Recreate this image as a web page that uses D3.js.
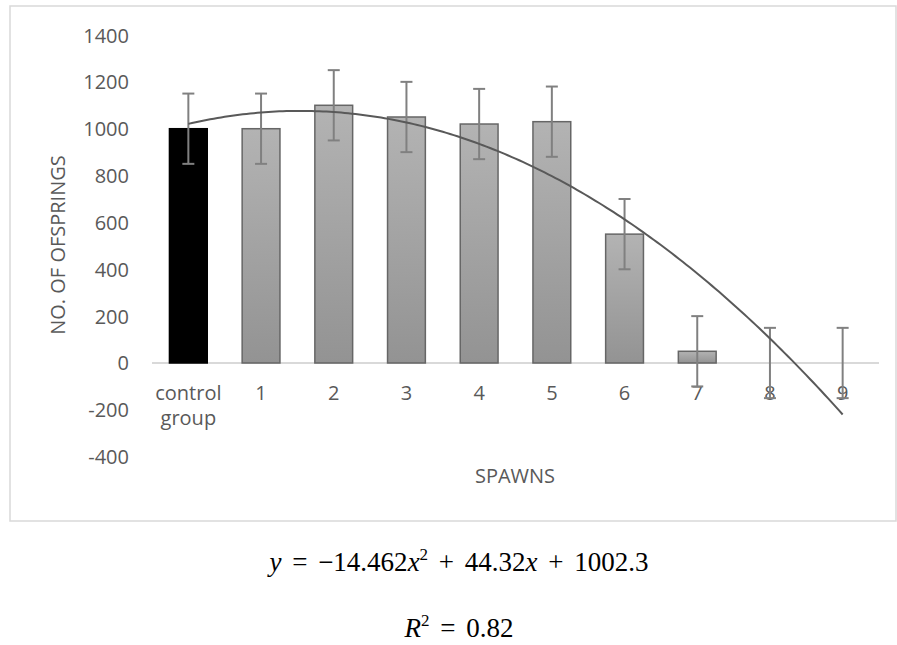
<!DOCTYPE html>
<html>
<head>
<meta charset="utf-8">
<script src="https://cdn.jsdelivr.net/npm/d3@7"></script>
<style>
  body { margin: 0; background: #fff; }
  svg { display: block; }
  .tick-lbl { font-family: "Open Sans", sans-serif; font-size: 20px; fill: #595959; }
  .eq { font-family: "Liberation Serif", "DejaVu Serif", serif; font-size: 27px; fill: #000; word-spacing: 4px; }
</style>
</head>
<body>
<svg width="897" height="645"></svg>
<script>
// chart data
var categories = ["control group", "1", "2", "3", "4", "5", "6", "7", "8", "9"];
var offspring = [1000, 1000, 1100, 1050, 1020, 1030, 550, 50, 0, 0];
var errors = [150, 150, 150, 150, 150, 150, 150, 150, 150, 150];
var yTicks = [-400, -200, 0, 200, 400, 600, 800, 1000, 1200, 1400];
// poly trendline (order 2) on x = 1..10, as drawn by the chart
var trendCoef = [-23.30, 118.48, 925.4];

var svg = d3.select("svg");

var x0 = 152, x1 = 879;
var xScale = d3.scaleBand().domain(categories).range([x0, x1])
    .paddingInner(0.48).paddingOuter(0.24);
var yScale = d3.scaleLinear().domain([-400, 1400]).range([456.7, 35]);

// outer chart frame
svg.append("rect").attr("x", 10).attr("y", 6).attr("width", 886).attr("height", 515)
    .attr("fill", "none").attr("stroke", "#d9d9d9").attr("stroke-width", 1.5);

var defs = svg.append("defs");
var grad = defs.append("linearGradient").attr("id", "barGrad")
    .attr("x1", 0).attr("y1", 0).attr("x2", 0).attr("y2", 1);
grad.append("stop").attr("offset", "0%").attr("stop-color", "#b3b3b3");
grad.append("stop").attr("offset", "100%").attr("stop-color", "#939393");

// y axis labels
var yAxis = svg.append("g").attr("transform", "translate(129,0)")
    .call(d3.axisLeft(yScale).tickValues(yTicks).tickSize(0).tickPadding(0)
        .tickFormat(function(d) { return String(d); }));
yAxis.select(".domain").remove();
yAxis.selectAll("text").attr("class", "tick-lbl").attr("font-size", null)
    .attr("font-family", null).attr("fill", null).attr("dy", "0.35em");

// zero line
svg.append("line").attr("x1", x0).attr("x2", x1)
    .attr("y1", yScale(0)).attr("y2", yScale(0))
    .attr("stroke", "#d9d9d9").attr("stroke-width", 2);

// x labels
var xl = svg.append("g");
categories.forEach(function(c) {
    var t = xl.append("text").attr("class", "tick-lbl").attr("text-anchor", "middle")
        .attr("x", xScale(c) + xScale.bandwidth() / 2).attr("y", 400);
    c.split(" ").forEach(function(w, i) {
        t.append("tspan").attr("x", xScale(c) + xScale.bandwidth() / 2)
            .attr("dy", i == 0 ? 0 : 25).text(w);
    });
});

// bars
svg.selectAll(".bar").data(offspring).enter().append("rect")
    .attr("class", "bar")
    .attr("x", function(d, i) { return xScale(categories[i]); })
    .attr("y", function(d) { return yScale(d); })
    .attr("width", xScale.bandwidth())
    .attr("height", function(d) { return yScale(0) - yScale(d); })
    .attr("fill", function(d, i) { return i == 0 ? "#000" : "url(#barGrad)"; })
    .attr("stroke", function(d, i) { return i == 0 ? "#000" : "#666"; })
    .attr("stroke-width", function(d) { return d == 0 ? 0 : 1.5; });

// error bars
var eb = svg.append("g").attr("stroke", "#808080").attr("stroke-width", 2);
offspring.forEach(function(v, i) {
    var cx = xScale(categories[i]) + xScale.bandwidth() / 2;
    var top = yScale(v + errors[i]), bot = yScale(v - errors[i]);
    eb.append("line").attr("x1", cx).attr("x2", cx).attr("y1", top).attr("y2", bot);
    eb.append("line").attr("x1", cx - 6).attr("x2", cx + 6).attr("y1", top).attr("y2", top);
    eb.append("line").attr("x1", cx - 6).attr("x2", cx + 6).attr("y1", bot).attr("y2", bot);
});

// trendline
var idx = d3.scaleLinear().domain([1, categories.length])
    .range([xScale(categories[0]) + xScale.bandwidth() / 2,
            xScale(categories[categories.length - 1]) + xScale.bandwidth() / 2]);
var pts = d3.range(1, categories.length + 0.001, 0.05).map(function(t) {
    return [idx(t), yScale(trendCoef[0] * t * t + trendCoef[1] * t + trendCoef[2])];
});
svg.append("path").attr("d", d3.line()(pts)).attr("fill", "none")
    .attr("stroke", "#595959").attr("stroke-width", 2);

// axis titles
svg.append("text").attr("class", "tick-lbl").attr("text-anchor", "middle")
    .attr("transform", "translate(65,245) rotate(-90)").text("NO. OF OFSPRINGS");
svg.append("text").attr("class", "tick-lbl").attr("text-anchor", "middle")
    .attr("x", 515).attr("y", 483).text("SPAWNS");

// equation + r squared below the chart
var eq = svg.append("text").attr("class", "eq").attr("text-anchor", "middle")
    .attr("x", 459).attr("y", 571).attr("xml:space", "preserve");
eq.append("tspan").attr("font-style", "italic").text("y");
eq.append("tspan").text(" = \u221214.462");
eq.append("tspan").attr("font-style", "italic").text("x");
eq.append("tspan").attr("font-size", 17).attr("dy", -11).text("2");
eq.append("tspan").attr("dy", 11).text(" + 44.32");
eq.append("tspan").attr("font-style", "italic").text("x");
eq.append("tspan").text(" + 1002.3");

var r2 = svg.append("text").attr("class", "eq").attr("text-anchor", "middle")
    .attr("x", 459).attr("y", 637).attr("xml:space", "preserve");
r2.append("tspan").attr("font-style", "italic").text("R");
r2.append("tspan").attr("font-size", 17).attr("dy", -11).text("2");
r2.append("tspan").attr("dy", 11).text(" = 0.82");
</script>
</body>
</html>
